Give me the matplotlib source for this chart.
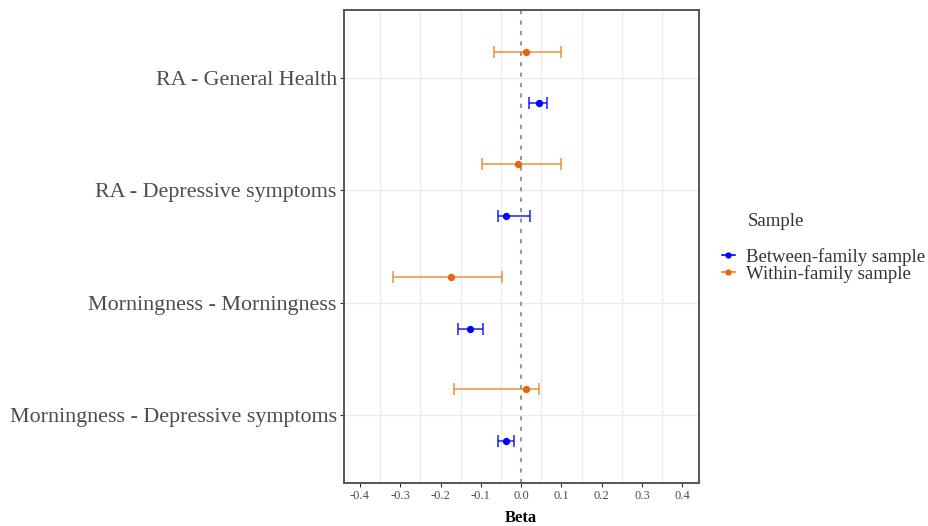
import matplotlib.pyplot as plt
from matplotlib.lines import Line2D
import numpy as np

# outcome rows, top to bottom as in the picture
labels = ["RA - General Health", "RA - Depressive symptoms",
          "Morningness - Morningness", "Morningness - Depressive symptoms"]

# between-family sample: beta, lower, upper
between_beta = [0.043, -0.038, -0.126, -0.038]
between_lo = [0.020, -0.058, -0.157, -0.058]
between_hi = [0.063, 0.021, -0.095, -0.019]

# within-family sample: beta, lower, upper
within_beta = [0.012, -0.007, -0.175, 0.012]
within_lo = [-0.068, -0.097, -0.317, -0.167]
within_hi = [0.100, 0.100, -0.048, 0.043]

xticks = [-0.4, -0.3, -0.2, -0.1, 0.0, 0.1, 0.2, 0.3, 0.4]

plt.rcParams['font.family'] = ['Liberation Serif', 'DejaVu Serif']

fig = plt.figure(figsize=(9.29, 5.26), dpi=100)
ax = fig.add_axes([0.370, 0.082, 0.382, 0.899])

pos = np.arange(len(labels), 0, -1)
dodge = 0.23

blue = '#0000FF'
orange = '#F07F22'

def draw(beta, lo, hi, y, col, pcol):
	beta = np.array(beta)
	err = [beta - np.array(lo), np.array(hi) - beta]
	ax.errorbar(beta, y, xerr=err, fmt='none', ecolor=col, elinewidth=1.3,
		capsize=4.5, capthick=1.3, alpha=0.75, zorder=3)
	ax.scatter(beta, y, s=18, color=pcol, zorder=4)

draw(within_beta, within_lo, within_hi, pos + dodge, orange, '#E8650C')
draw(between_beta, between_lo, between_hi, pos - dodge, blue, blue)

# grid like the ggplot theme
for gx in np.arange(-0.35, 0.36, 0.1):
	ax.axvline(gx, color='#EBEBEB', lw=1, zorder=0)
for gy in pos:
	ax.axhline(gy, color='#EBEBEB', lw=1, zorder=0)
ax.axvline(0, color='#999999', lw=1.5, ls=(0, (2, 3)), zorder=2)

ax.set_xlim(-0.44, 0.44)
ax.set_ylim(0.4, 4.6)
ax.set_xticks(xticks)
ax.set_xticklabels(['%.1f' % v for v in xticks], fontsize=9, color='#4D4D4D')
ax.set_yticks(pos)
ax.set_yticklabels(labels, fontsize=15.8, color='#4D4D4D', va='center_baseline')
ax.tick_params(axis='both', length=3, width=0.8, color='#333333', pad=2)
ax.set_xlabel('Beta', fontsize=12, fontweight='bold', labelpad=6)

for s in ax.spines.values():
	s.set_color('#555555')
	s.set_linewidth(1.4)

handles = [
	Line2D([0], [0], color=blue, marker='o', markersize=3.5, lw=1.2),
	Line2D([0], [0], color=orange, marker='o', markersize=3.5, lw=1.2, markerfacecolor='#E8650C', markeredgecolor='#E8650C'),
]
fig.text(0.805, 0.578, 'Sample', fontsize=13.5, color='#333333', va='center', ha='left')
leg = fig.legend(handles, ['Between-family sample', 'Within-family sample'],
	loc='upper left', bbox_to_anchor=(0.777, 0.529),
	frameon=False, fontsize=13.5, handlelength=0.7,
	handletextpad=0.6, labelspacing=-0.05, borderaxespad=0, borderpad=0)
for t in leg.get_texts():
	t.set_color('#333333')

fig.savefig('out.png', dpi=100)
